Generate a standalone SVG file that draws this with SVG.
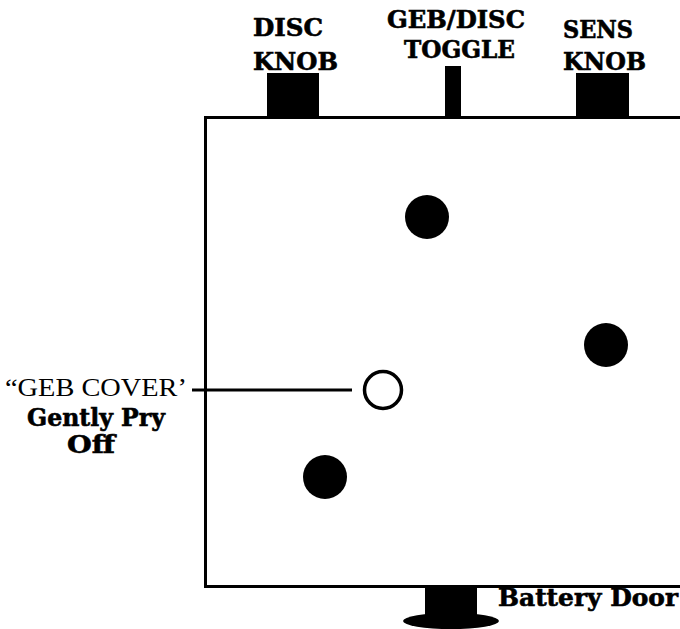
<svg xmlns="http://www.w3.org/2000/svg" width="680" height="629" viewBox="0 0 680 629">
<style>
.lb{font-family:"DejaVu Serif","Liberation Serif",serif;font-weight:bold;font-size:24px;fill:#000;stroke:#000;stroke-width:0.6}
.lr{font-family:"Liberation Serif","DejaVu Serif",serif;font-size:26px;fill:#000}
.line{stroke:#000;stroke-width:3;fill:none}
.blk{fill:#000}
.dot{fill:#000}
</style>
<rect width="680" height="629" fill="#fff"/>
<g id="housing">
<path class="line" d="M680,117.5 H205.5 V586.5 H680"/>
</g>
<g id="disc-knob">
<rect class="blk" x="267" y="73" width="52" height="44"/>
<text class="lb" x="253" y="36" textLength="70" lengthAdjust="spacingAndGlyphs">DISC</text>
<text class="lb" x="253" y="70" textLength="85" lengthAdjust="spacingAndGlyphs">KNOB</text>
</g>
<g id="toggle">
<rect class="blk" x="445" y="66" width="16" height="51"/>
<text class="lb" x="387" y="28" textLength="138" lengthAdjust="spacingAndGlyphs">GEB/DISC</text>
<text class="lb" x="404" y="58" textLength="111" lengthAdjust="spacingAndGlyphs">TOGGLE</text>
</g>
<g id="sens-knob">
<rect class="blk" x="576" y="73" width="53" height="44"/>
<text class="lb" x="563" y="38" textLength="70" lengthAdjust="spacingAndGlyphs">SENS</text>
<text class="lb" x="563" y="70" textLength="83" lengthAdjust="spacingAndGlyphs">KNOB</text>
</g>
<g id="dot-top"><circle class="dot" cx="427" cy="217" r="22"/></g>
<g id="dot-right"><circle class="dot" cx="606" cy="345" r="22"/></g>
<g id="dot-bottom"><circle class="dot" cx="325" cy="477" r="22"/></g>
<g id="geb-cover">
<circle cx="383" cy="390" r="18.5" fill="#fff" stroke="#000" stroke-width="3.5"/>
</g>
<g id="geb-label">
<text class="lr" x="5" y="396" textLength="182" lengthAdjust="spacingAndGlyphs">“GEB COVER’</text>
<text class="lb" x="27" y="426" textLength="138" lengthAdjust="spacingAndGlyphs">Gently Pry</text>
<text class="lb" x="67" y="453" textLength="48" lengthAdjust="spacingAndGlyphs">Off</text>
</g>
<g id="battery-door">
<rect class="blk" x="425" y="586" width="52" height="36"/>
<ellipse class="blk" cx="451" cy="621" rx="48" ry="8"/>
<text class="lb" x="498" y="606" textLength="180" lengthAdjust="spacingAndGlyphs">Battery Door</text>
</g>
<g id="connectors">
<line class="line" x1="192" y1="390" x2="352" y2="390" stroke-width="2.5"/>
</g>
</svg>
